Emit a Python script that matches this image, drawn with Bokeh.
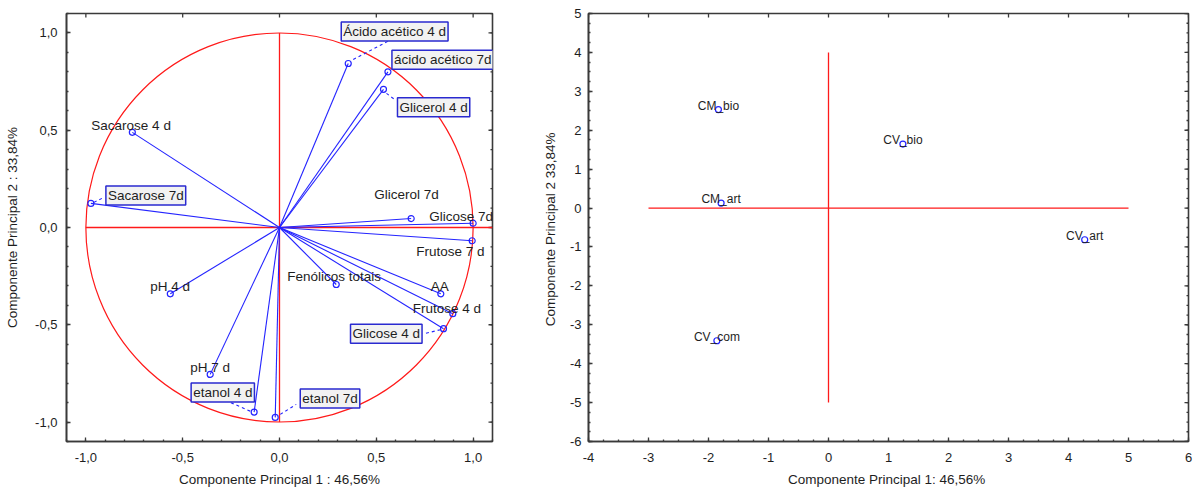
from bokeh.plotting import figure
from bokeh.models import Label, FixedTicker, Range1d, CustomJSTickFormatter
from bokeh.layouts import row
from bokeh.embed import file_html
from bokeh.resources import INLINE
import numpy as np

# ---------------- data ----------------
var_names = ["Ácido acético 4 d", "ácido acético 7d", "Glicerol 4 d", "Sacarose 4 d",
             "Sacarose 7d", "Glicerol 7d", "Glicose 7d", "Frutose 7 d",
             "Fenólicos totais", "AA", "Frutose 4 d", "Glicose 4 d",
             "pH 4 d", "pH 7 d", "etanol 4 d", "etanol 7d"]
pc1_load = [0.355, 0.56, 0.537, -0.76, -0.974, 0.68, 1.0, 0.995,
            0.293, 0.833, 0.895, 0.847, -0.564, -0.358, -0.131, -0.022]
pc2_load = [0.843, 0.80, 0.71, 0.489, 0.124, 0.046, 0.022, -0.068,
            -0.293, -0.341, -0.443, -0.52, -0.341, -0.755, -0.949, -0.976]
boxed = [1, 1, 1, 0, 1, 0, 0, 0, 0, 0, 0, 1, 0, 0, 1, 1]

samples = ["CM_bio", "CV_bio", "CM_art", "CV_art", "CV_com"]
pc1_score = [-1.835, 1.24, -1.79, 4.27, -1.86]
pc2_score = [2.53, 1.645, 0.128, -0.815, -3.41]

x_title_left = "Componente Principal 1 : 46,56%"
y_title_left = "Componente Principal 2 : 33,84%"
x_title_right = "Componente Principal  1: 46,56%"
y_title_right = "Componente Principal 2  33,84%"

# ---------------- styles / label placement (screen px) ----------------
label_dx = [-7, 4, 14, -41, 15, -37, -44, -56, -49, -10, -40, -93, -20, -20, -63, 25]
label_dy = [32, 12, -18, 7, 8, 24, 6.5, -11, 8, 7.5, 5.5, -5, 7.5, 7, 19.5, 19]
leader_idx = [0, 2, 4, 11, 14, 15]
leader_dx0 = [5, 3, 3, -3, -4, 5]
leader_dy0 = [4, -4, 1, -1, 1, 3]
leader_dx1 = [45, 11, 11, -19, -29, 21]
leader_dy1 = [25, -10, 5, -5, 12, 13]

BLUE = "#2424ff"
RED = "#ff1a1a"
AX = "#3a3a3a"
TXT = "#1e1e1e"
FONT = "Liberation Sans"


def make_axes(p, xr, yr, fw, fh, xmaj, xmin, ymaj, ymin, fmt, lab_size, title_size,
              xstand, ystand, xls, yls):
    for ax, maj, mn in ((p.xaxis[0], xmaj, xmin), (p.yaxis[0], ymaj, ymin)):
        ax.ticker = FixedTicker(ticks=maj, minor_ticks=mn)
        ax.formatter = fmt
        ax.axis_line_color = AX
        ax.axis_line_width = 1.6
        ax.major_tick_in = 4
        ax.major_tick_out = 0
        ax.minor_tick_in = 2
        ax.minor_tick_out = 0
        ax.major_tick_line_color = AX
        ax.minor_tick_line_color = AX
        ax.major_tick_line_width = 1.3
        ax.minor_tick_line_width = 1.3
        ax.major_label_text_font = FONT
        ax.major_label_text_font_size = lab_size
        ax.major_label_text_color = TXT
        ax.axis_label_text_font = FONT
        ax.axis_label_text_font_size = title_size
        ax.axis_label_text_font_style = "normal"
        ax.axis_label_text_color = TXT
    p.xaxis[0].major_label_standoff = xls
    p.yaxis[0].major_label_standoff = yls
    p.xaxis[0].axis_label_standoff = xstand
    p.yaxis[0].axis_label_standoff = ystand
    p.xgrid.visible = False
    p.ygrid.visible = False
    p.outline_line_color = AX
    p.outline_line_width = 1.6
    p.background_fill_color = "white"
    p.border_fill_color = "white"
    # inward tick marks on the top and right frame edges
    ux = (xr[1] - xr[0]) / fw
    uy = (yr[1] - yr[0]) / fh
    p.segment(x0=xmaj, y0=[yr[1]] * len(xmaj), x1=xmaj, y1=[yr[1] - 4 * uy] * len(xmaj),
              line_color=AX, line_width=1.3)
    p.segment(x0=[xr[1]] * len(ymaj), y0=ymaj, x1=[xr[1] - 4 * ux] * len(ymaj), y1=ymaj,
              line_color=AX, line_width=1.3)
    p.segment(x0=[xr[1]] * len(ymin), y0=ymin, x1=[xr[1] - 2 * ux] * len(ymin), y1=ymin,
              line_color=AX, line_width=1.3)
    return ux, uy


# ---------------- left: loadings ----------------
XR = (-1.1, 1.1)
YR = (-1.1, 1.1)
W1, H1, BL1, BR1, BT1, BB1 = 535, 491, 66, 43, 13, 50
left = figure(width=W1, height=H1, x_range=Range1d(*XR), y_range=Range1d(*YR),
              output_backend="svg", toolbar_location=None,
              min_border_left=BL1, min_border_right=BR1, min_border_top=BT1, min_border_bottom=BB1,
              x_axis_label=x_title_left, y_axis_label=y_title_left)
comma_fmt = CustomJSTickFormatter(code="return tick.toFixed(1).replace('.', ',');")
major_l = [-1.0, -0.5, 0.0, 0.5, 1.0]
minor_l = [round(float(v), 2) for v in np.arange(-1.1, 1.1001, 0.1)]
ux, uy = make_axes(left, XR, YR, W1 - BL1 - BR1, H1 - BT1 - BB1, major_l, minor_l, major_l, minor_l,
                   comma_fmt, "13px", "13.5px", 7, 12, 11, 9)

# unit circle and red axes
left.ellipse(x=0, y=0, width=2, height=2, fill_color=None, line_color=RED, line_width=1.2)
left.segment(x0=[-1.0, 0.0], y0=[0.0, -1.0], x1=[XR[1], 0.0], y1=[0.0, 1.0],
             line_color=RED, line_width=1.3)

# loading vectors
left.segment(x0=[0.0] * len(pc1_load), y0=[0.0] * len(pc1_load), x1=pc1_load, y1=pc2_load,
             line_color=BLUE, line_width=1.1)
left.scatter(pc1_load, pc2_load, marker="circle", size=6, fill_color=None,
             line_color=BLUE, line_width=1.2)

# dashed leaders (screen px offsets converted to data units)
lx0 = [pc1_load[i] + dx * ux for i, dx in zip(leader_idx, leader_dx0)]
ly0 = [pc2_load[i] + dy * uy for i, dy in zip(leader_idx, leader_dy0)]
lx1 = [pc1_load[i] + dx * ux for i, dx in zip(leader_idx, leader_dx1)]
ly1 = [pc2_load[i] + dy * uy for i, dy in zip(leader_idx, leader_dy1)]
left.segment(x0=lx0, y0=ly0, x1=lx1, y1=ly1, line_color=BLUE, line_width=1.1, line_dash="3 3")

for i, name in enumerate(var_names):
    kw = dict(x=pc1_load[i], y=pc2_load[i], text=name, x_offset=label_dx[i], y_offset=label_dy[i],
              text_font=FONT, text_font_size="13.5px", text_color=TXT,
              text_align="left", text_baseline="middle")
    if boxed[i]:
        kw.update(background_fill_color="#f2f2f2", border_line_color="#2a2ad0",
                  border_line_width=1.5, padding=2)
    left.add_layout(Label(**kw))

# ---------------- right: scores ----------------
XR2 = (-4, 6)
YR2 = (-6, 5)
W2, H2, BL2, BR2, BT2, BB2 = 663, 491, 53, 10, 13, 50
rightp = figure(width=W2, height=H2, x_range=Range1d(*XR2), y_range=Range1d(*YR2),
                output_backend="svg", toolbar_location=None,
                min_border_left=BL2, min_border_right=BR2, min_border_top=BT2, min_border_bottom=BB2,
                x_axis_label=x_title_right, y_axis_label=y_title_right)
major_x2 = list(range(-4, 7))
minor_x2 = [float(v) for v in np.arange(-4, 6.001, 0.25)]
major_y2 = list(range(-6, 6))
minor_y2 = [float(v) for v in np.arange(-6, 5.001, 0.25)]
int_fmt = CustomJSTickFormatter(code="return tick.toFixed(0);")
make_axes(rightp, XR2, YR2, W2 - BL2 - BR2, H2 - BT2 - BB2, major_x2, minor_x2, major_y2, minor_y2,
          int_fmt, "13px", "13.5px", 7, 9, 11, 7)

rightp.segment(x0=[-3.0, 0.0], y0=[0.0, -5.0], x1=[5.0, 0.0], y1=[0.0, 4.0],
               line_color=RED, line_width=1.3)
rightp.scatter(pc1_score, pc2_score, marker="circle", size=6, fill_color=None,
               line_color=BLUE, line_width=1.2)
rightp.text(x=pc1_score, y=pc2_score, text=samples, y_offset=-4,
            text_font={"value": FONT}, text_font_size="12px", text_color=TXT,
            text_align="center", text_baseline="alphabetic")

layout = row(left, rightp)
open("out.html", "w").write(file_html(layout, INLINE))
